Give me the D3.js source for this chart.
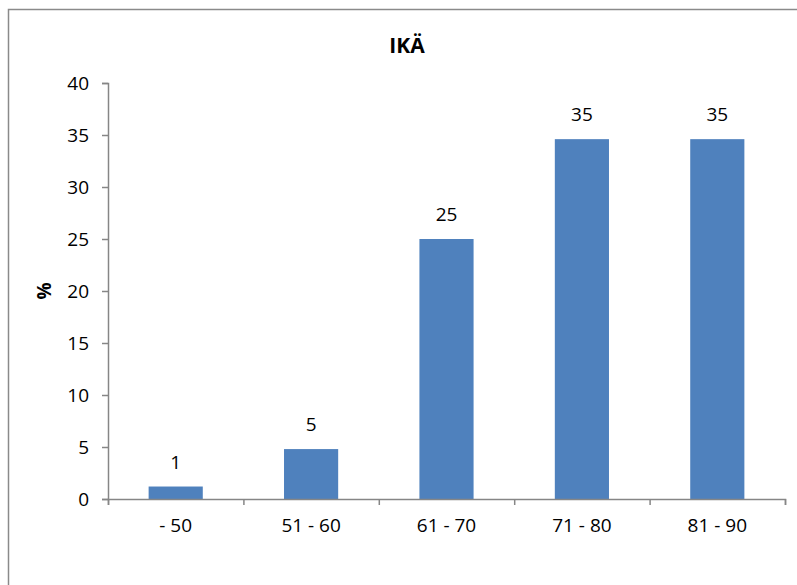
<!DOCTYPE html>
<html>
<head>
<meta charset="utf-8">
<script src="https://cdn.jsdelivr.net/npm/d3@7"></script>
<style>
  html, body { margin: 0; padding: 0; background: #fff; }
  svg { display: block; }
  text { font-family: "Open Sans", "Noto Sans", sans-serif; fill: #000; }
</style>
</head>
<body>
<script>
const title = "IKÄ";
const yTitle = "%";
const categories = ["- 50", "51 - 60", "61 - 70", "71 - 80", "81 - 90"];
const values = [1.2, 4.8, 25.0, 34.6, 34.6];
const yTicks = [0, 5, 10, 15, 20, 25, 30, 35, 40];

const W = 797, H = 585;
const plot = { left: 108, right: 785, top: 83, bottom: 499 };
const fs = 19;

const svg = d3.select("body").append("svg").attr("width", W).attr("height", H);

// chart border
svg.append("rect")
  .attr("x", 8.5).attr("y", 9.5)
  .attr("width", W + 20).attr("height", H + 20)
  .attr("fill", "none").attr("stroke", "#8a8a8a").attr("stroke-width", 1.5);

const x = d3.scaleBand().domain(categories)
  .range([plot.left, plot.right]).paddingInner(0.6).paddingOuter(0.3);
const xb = d3.scaleLinear().domain([0, categories.length]).range([plot.left, plot.right]);
const y = d3.scaleLinear().domain([0, 40]).range([plot.bottom, plot.top]);

// bars
svg.append("g").selectAll("rect").data(values).join("rect")
  .attr("x", (d, i) => x(categories[i]))
  .attr("width", x.bandwidth())
  .attr("y", d => y(d))
  .attr("height", d => y(0) - y(d))
  .attr("fill", "#4F81BD");

// y axis
const yAxis = svg.append("g").attr("transform", `translate(${plot.left},0)`)
  .call(d3.axisLeft(y).tickValues(yTicks).tickSize(6).tickPadding(13).tickFormat(d3.format("d")));
yAxis.select(".domain").attr("stroke", "#868686").attr("stroke-width", 1.5);
yAxis.selectAll(".tick line").attr("stroke", "#868686").attr("stroke-width", 1.5);
yAxis.selectAll("text").attr("font-size", fs).attr("font-family", "'Open Sans', sans-serif").attr("fill", "#000");

// x axis boundary ticks
const xAxisB = svg.append("g").attr("transform", `translate(0,${plot.bottom})`)
  .call(d3.axisBottom(xb).tickValues(d3.range(categories.length + 1)).tickSize(6).tickFormat(""));
xAxisB.select(".domain").attr("stroke", "#868686").attr("stroke-width", 1.5);
xAxisB.selectAll(".tick line").attr("stroke", "#868686").attr("stroke-width", 1.5);

// x labels
const xAxis = svg.append("g").attr("transform", `translate(0,${plot.bottom})`)
  .call(d3.axisBottom(x).tickSize(0).tickPadding(20));
xAxis.select(".domain").remove();
xAxis.selectAll("text").attr("font-size", fs).attr("font-family", "'Open Sans', sans-serif").attr("fill", "#000");

// data labels
svg.append("g").selectAll("text").data(values).join("text")
  .attr("x", (d, i) => x(categories[i]) + x.bandwidth() / 2)
  .attr("y", d => y(d) - 18)
  .attr("text-anchor", "middle")
  .attr("font-size", fs)
  .text(d => Math.round(d));

// title
svg.append("text").attr("x", 407).attr("y", 53)
  .attr("text-anchor", "middle").attr("font-size", 21).attr("font-weight", "bold")
  .text(title);

// y title
svg.append("text").attr("transform", "translate(51,291) rotate(-90)")
  .attr("text-anchor", "middle").attr("font-size", 19).attr("font-weight", "bold")
  .text(yTitle);
</script>
</body>
</html>
